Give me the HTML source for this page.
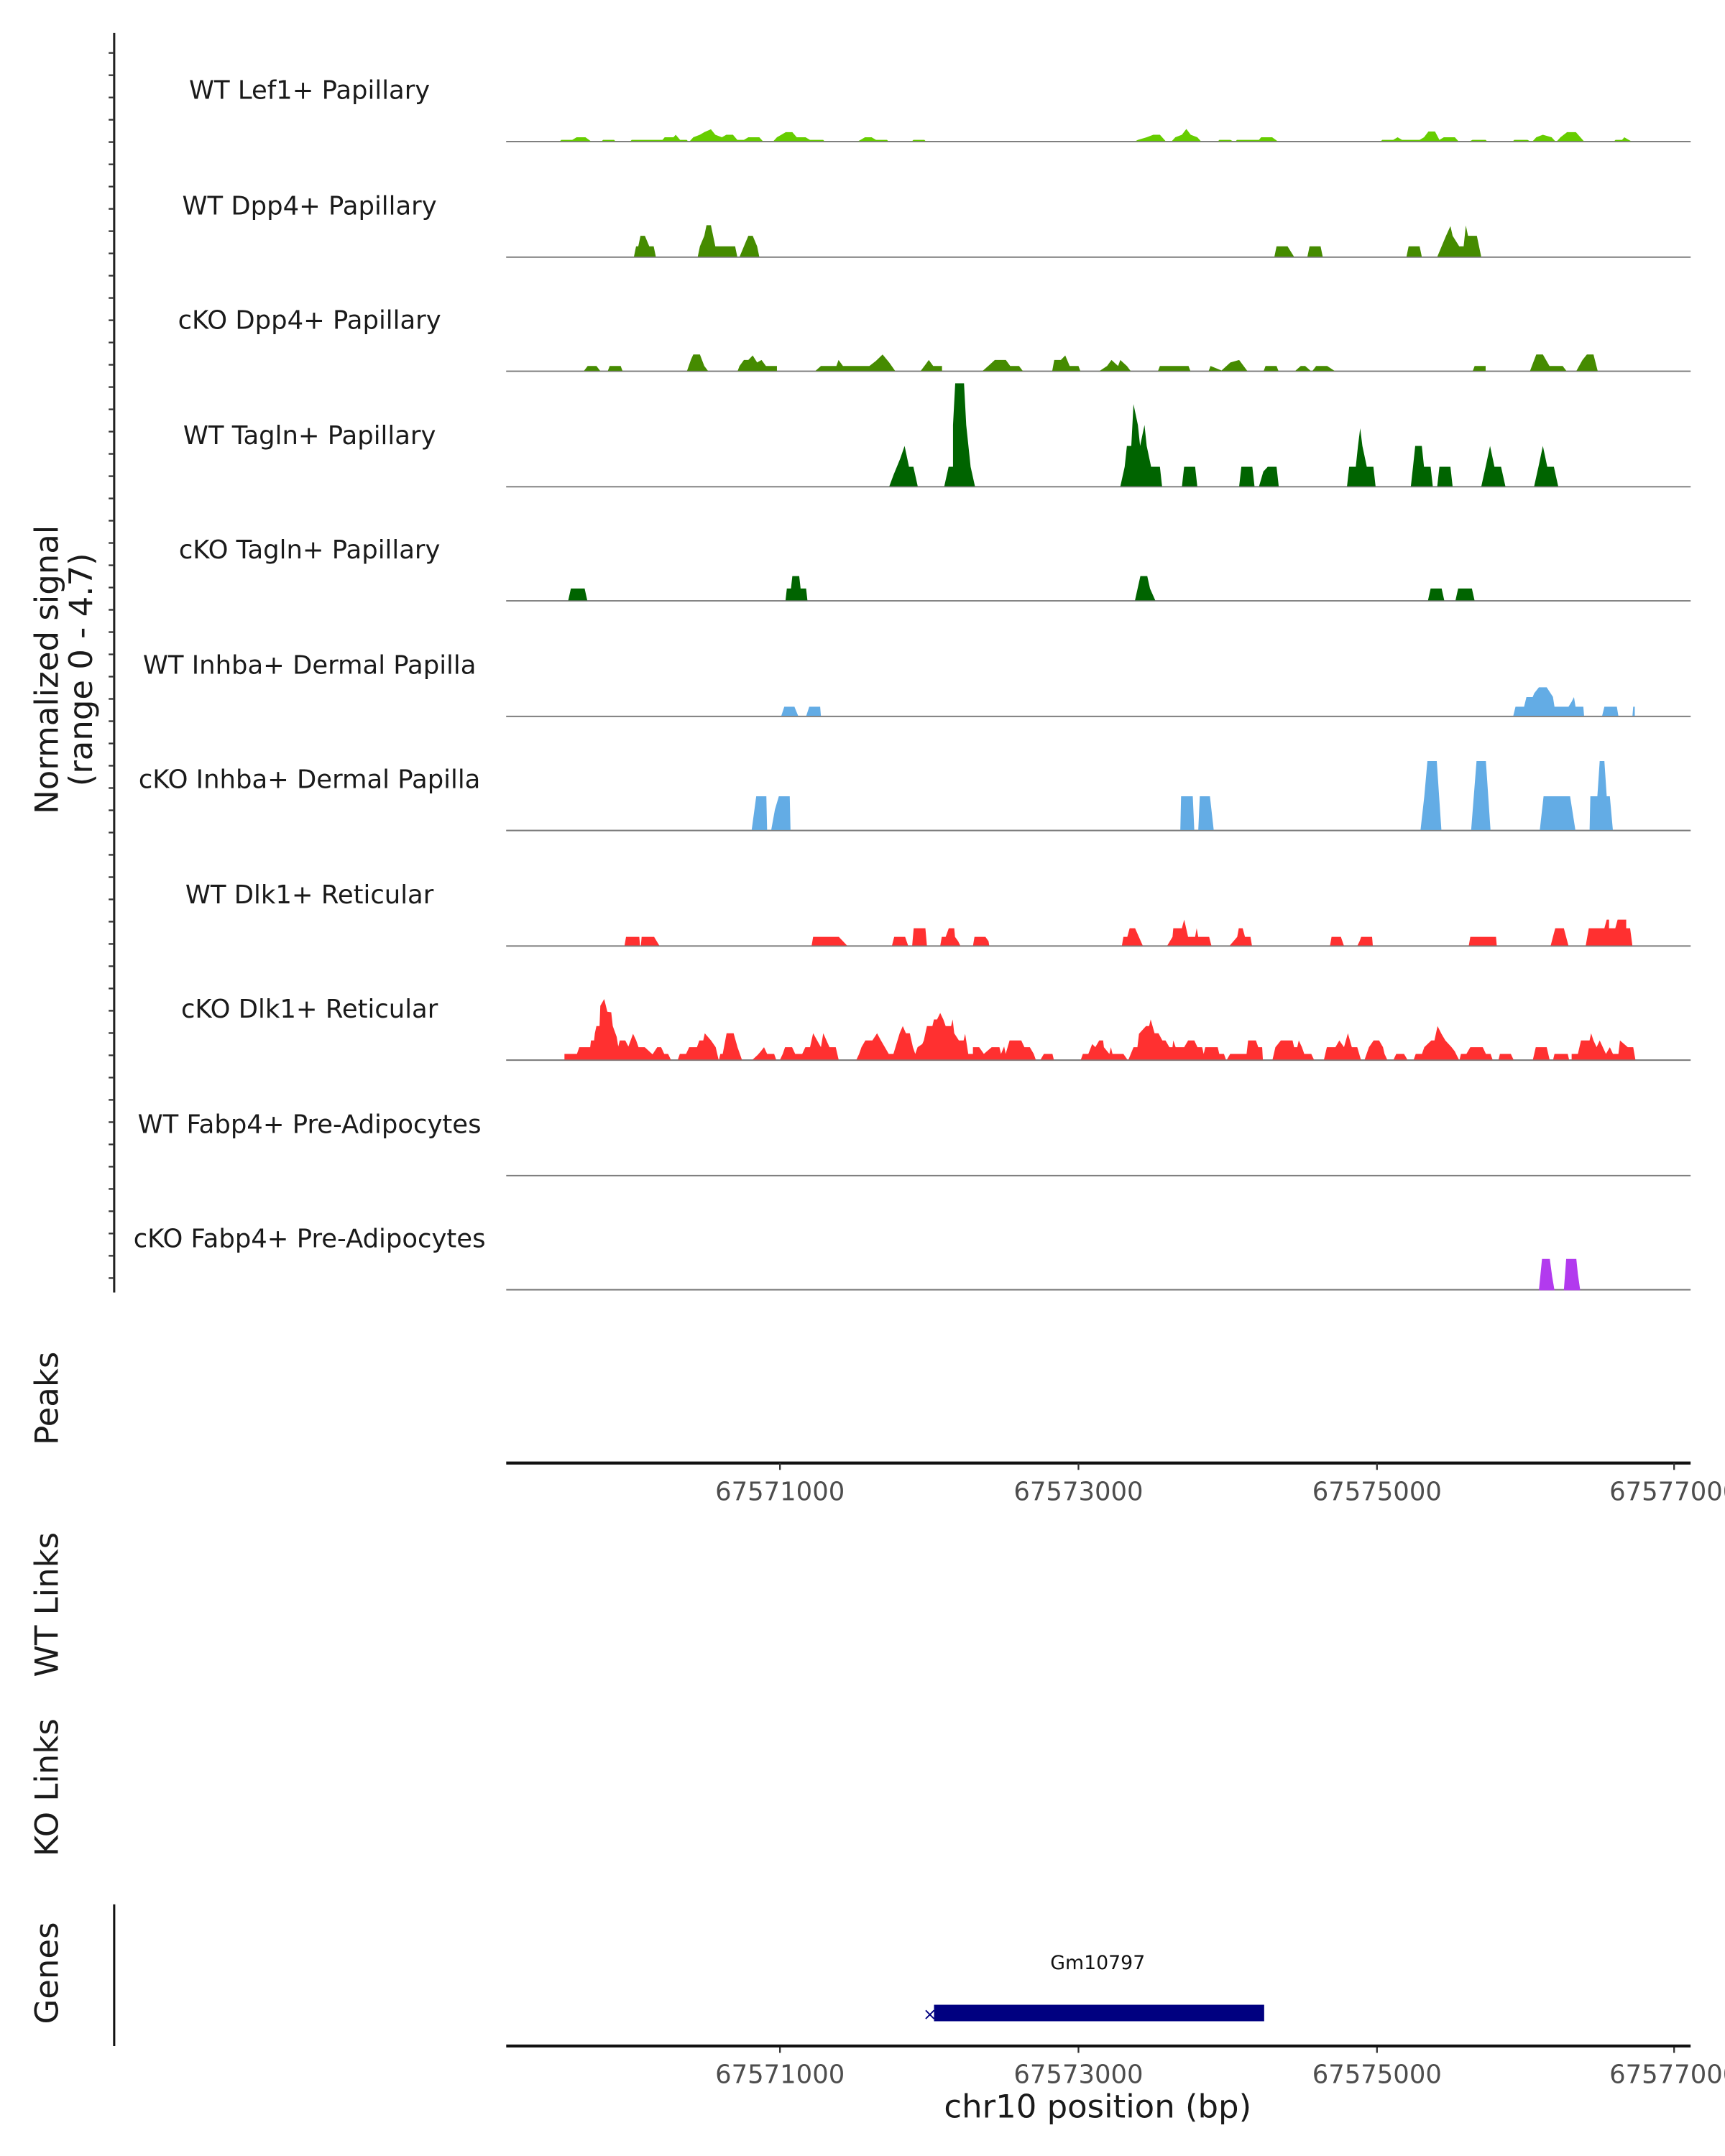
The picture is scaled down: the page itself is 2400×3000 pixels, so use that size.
<!DOCTYPE html>
<html><head><meta charset="utf-8"><style>
html,body{margin:0;padding:0;background:#fff;width:2400px;height:3000px;overflow:hidden}
svg{display:block}
text{font-family:"DejaVu Sans","Liberation Sans",sans-serif}
</style></head><body>
<svg width="2400" height="3000" viewBox="0 0 1254 1568" preserveAspectRatio="none" xmlns="http://www.w3.org/2000/svg">
<rect width="1254" height="1568" fill="#fff"/>
<line x1="83" y1="24" x2="83" y2="940" stroke="#222" stroke-width="1.6"/>
<g stroke="#7a7a7a" stroke-width="1">
<line x1="368" x2="1229" y1="103" y2="103"/><line x1="368" x2="1229" y1="187" y2="187"/>
<line x1="368" x2="1229" y1="270" y2="270"/><line x1="368" x2="1229" y1="354" y2="354"/>
<line x1="368" x2="1229" y1="437" y2="437"/><line x1="368" x2="1229" y1="521" y2="521"/>
<line x1="368" x2="1229" y1="604" y2="604"/><line x1="368" x2="1229" y1="688" y2="688"/>
<line x1="368" x2="1229" y1="771" y2="771"/><line x1="368" x2="1229" y1="855" y2="855"/>
<line x1="368" x2="1229" y1="938" y2="938"/>
</g>
<g font-size="18.5" fill="#1a1a1a" text-anchor="middle">
<text x="225" y="72">WT Lef1+ Papillary</text>
<text x="225" y="156">WT Dpp4+ Papillary</text>
<text x="225" y="239">cKO Dpp4+ Papillary</text>
<text x="225" y="323">WT Tagln+ Papillary</text>
<text x="225" y="406">cKO Tagln+ Papillary</text>
<text x="225" y="490">WT Inhba+ Dermal Papilla</text>
<text x="225" y="573">cKO Inhba+ Dermal Papilla</text>
<text x="225" y="657">WT Dlk1+ Reticular</text>
<text x="225" y="740">cKO Dlk1+ Reticular</text>
<text x="225" y="824">WT Fabp4+ Pre-Adipocytes</text>
<text x="225" y="907">cKO Fabp4+ Pre-Adipocytes</text>
</g>
<g transform="scale(0.8,0.2333)">
<polygon fill="#66cd00" points="508,443 510,436 520,436 524,428 532,428 538,443 546,443 548,436 558,436 560,443 572,443 574,436 602,436 604,428 612,428 614,420 618,436 624,436 626,443 630,428 636,420 640,412 646,403 650,420 656,428 660,420 666,420 670,436 676,436 680,428 690,428 694,443 702,443 706,428 710,420 714,412 720,412 724,428 732,428 736,436 748,436 750,443 778,443 782,436 786,428 792,428 796,436 806,436 808,443 828,443 830,436 840,436 842,443 1030,443 1034,436 1042,428 1048,420 1054,420 1060,443 1064,443 1068,428 1074,420 1078,402 1082,420 1088,428 1092,443 1106,443 1108,436 1118,436 1122,443 1124,436 1144,436 1146,428 1156,428 1162,443 1254,443 1256,436 1266,436 1270,428 1274,436 1290,436 1294,428 1298,410 1304,410 1308,436 1312,428 1322,428 1326,443 1334,443 1338,436 1350,436 1352,443 1374,443 1376,436 1388,436 1392,443 1396,428 1402,420 1410,428 1414,443 1418,428 1424,412 1432,412 1440,443 1466,443 1468,436 1474,436 1476,428 1480,436 1484,443"/>
<polygon fill="#458b00" points="576,801 578,768 580,768 582,735 586,735 590,768 594,768 596,801 634,801 636,768 640,735 642,702 646,702 650,768 668,768 670,801 672,801 676,768 680,735 684,735 688,768 690,801 1158,801 1160,768 1170,768 1176,801 1188,801 1190,768 1200,768 1202,801 1278,801 1280,768 1290,768 1292,801 1306,801 1310,768 1314,735 1318,705 1320,735 1326,768 1330,768 1332,703 1334,735 1342,735 1346,801"/>
<polygon fill="#458b00" points="530,1159 534,1141 542,1141 546,1159 552,1159 554,1141 564,1141 566,1159 624,1159 628,1120 630,1105 636,1105 640,1141 644,1159 670,1159 672,1141 676,1122 680,1122 684,1108 688,1130 692,1122 696,1141 706,1141 706,1159 740,1159 746,1141 760,1141 762,1122 766,1141 790,1141 796,1125 802,1105 808,1130 814,1159 836,1159 840,1141 844,1122 848,1141 856,1141 856,1159 892,1159 898,1141 904,1122 914,1122 918,1141 926,1141 930,1159 956,1159 958,1122 964,1122 968,1108 972,1141 980,1141 982,1159 998,1159 1006,1141 1010,1122 1016,1141 1018,1122 1024,1141 1028,1159 1052,1159 1054,1141 1080,1141 1082,1159 1098,1159 1100,1141 1110,1155 1118,1130 1126,1122 1134,1159 1148,1159 1150,1141 1160,1141 1162,1159 1176,1159 1182,1141 1186,1141 1192,1159 1196,1141 1206,1141 1214,1159 1338,1159 1340,1141 1350,1141 1350,1159 1390,1159 1396,1105 1402,1105 1408,1141 1420,1141 1424,1159 1432,1159 1438,1122 1442,1105 1448,1105 1452,1159"/>
<polygon fill="#006400" points="808,1517 812,1480 818,1430 822,1390 826,1455 830,1455 834,1517 858,1517 862,1455 866,1455 866,1325 868,1195 876,1195 878,1325 882,1455 886,1517 1018,1517 1022,1455 1024,1390 1028,1390 1030,1260 1034,1325 1036,1390 1040,1325 1042,1390 1046,1455 1054,1455 1056,1517 1074,1517 1076,1455 1086,1455 1088,1517 1126,1517 1128,1455 1138,1455 1140,1517 1144,1517 1148,1470 1152,1455 1160,1455 1162,1517 1224,1517 1226,1455 1232,1455 1234,1390 1236,1335 1238,1390 1242,1455 1248,1455 1250,1517 1282,1517 1284,1455 1286,1390 1292,1390 1294,1455 1300,1455 1302,1517 1306,1517 1308,1455 1318,1455 1320,1517 1346,1517 1350,1455 1354,1390 1358,1455 1364,1455 1368,1517 1394,1517 1398,1455 1402,1390 1406,1455 1412,1455 1416,1517"/>
</g>
<polygon fill="#006400" points="413,437 415,428 425,428 427,437 571,437 572,428 575,428 576,419 581,419 582,428 586,428 587,437 825,437 827,428 829,419 834,419 836,428 840,437 1038,437 1040,428 1048,428 1050,437 1058,437 1060,428 1070,428 1072,437"/>
<g transform="translate(365,444.1) scale(0.5667,0.1742)">
<polygon fill="#63ace5" points="358,441 362,401 375,401 380,441 390,441 394,401 408,401 409,441 1297,441 1300,401 1311,401 1314,361 1322,361 1324,345 1330,320 1340,320 1348,360 1350,401 1368,401 1372,380 1375,361 1377,401 1387,401 1388,441 1411,441 1414,401 1430,401 1432,441 1450,441 1451,401 1453,401 1453,441"/>
<polygon fill="#63ace5" points="320,920 326,775 339,775 340,920 345,920 350,830 355,775 369,775 370,920 870,920 871,775 886,775 888,920 893,920 895,775 908,775 913,920 1178,920 1183,775 1187,628 1199,628 1202,775 1205,920 1243,920 1250,628 1262,628 1268,920 1331,920 1336,775 1370,775 1377,920 1395,920 1396,775 1405,775 1408,628 1414,628 1417,775 1421,775 1425,920"/>
<polygon fill="#ff3030" points="157,1400 159,1362 176,1362 177,1400 178,1400 179,1362 195,1362 202,1400 397,1400 399,1362 432,1362 443,1400 500,1400 503,1362 517,1362 521,1400 526,1400 528,1326 543,1326 545,1400 562,1400 564,1362 569,1362 573,1326 580,1326 581,1362 585,1380 588,1400 604,1400 606,1362 620,1362 624,1380 625,1400 795,1400 797,1362 802,1362 805,1326 812,1326 822,1400 853,1400 860,1362 861,1326 872,1326 875,1290 880,1362 889,1362 891,1326 893,1362 907,1362 910,1400 933,1400 943,1362 945,1326 950,1326 953,1362 960,1362 962,1400 1062,1400 1064,1362 1076,1362 1080,1400 1097,1400 1100,1380 1102,1362 1116,1362 1117,1400 1240,1400 1242,1362 1275,1362 1276,1400 1345,1400 1348,1362 1351,1326 1362,1326 1368,1400 1390,1400 1394,1326 1414,1326 1417,1290 1420,1290 1420,1326 1428,1326 1431,1290 1442,1290 1442,1326 1447,1326 1450,1400"/>
</g>
<g transform="translate(365,700.1) scale(0.5667,0.1742)">
<polygon fill="#ff3030" points="80,409 80,381 96,381 99,353 113,353 114,325 118,325 119,295 121,265 125,265 126,180 131,152 135,205 140,207 142,265 147,310 149,350 151,325 158,325 162,350 168,297 172,325 175,353 183,353 193,383 199,353 204,353 208,381 213,381 217,409 225,409 228,381 236,381 240,353 250,353 253,325 258,325 260,295 268,325 274,353 276,381 278,409 280,381 283,381 288,295 297,295 302,353 308,409 320,409 328,385 332,370 336,353 340,381 349,381 352,409 356,409 360,381 363,353 372,353 376,381 385,381 389,353 395,353 399,295 409,353 412,295 420,353 428,353 432,409 454,409 458,381 461,353 466,325 475,325 481,295 486,325 491,353 496,381 502,381 510,295 514,265 518,295 523,295 527,353 530,381 533,353 539,340 541,325 545,265 552,265 554,237 558,237 562,210 566,237 569,265 576,265 578,237 580,295 586,325 592,325 594,297 598,381 604,381 604,353 612,353 618,381 628,353 638,353 640,381 644,350 646,381 651,325 666,325 670,353 677,353 682,381 685,409 690,409 695,381 706,381 708,409 742,409 745,381 752,381 757,340 761,353 766,325 771,325 772,353 779,381 781,353 783,381 797,381 803,409 810,353 815,353 817,297 826,265 830,265 832,237 837,295 842,295 847,325 851,325 856,353 860,353 861,325 864,353 875,353 880,325 888,325 892,353 898,353 900,381 902,353 918,353 920,381 926,381 929,409 934,381 955,381 957,325 967,325 970,353 975,353 976,409 988,409 992,353 999,325 1014,325 1016,353 1020,353 1022,325 1026,353 1029,381 1038,381 1042,409 1054,409 1058,353 1069,353 1074,325 1080,353 1085,295 1090,353 1097,353 1102,409 1106,409 1112,353 1118,325 1125,325 1130,353 1132,381 1136,409 1143,409 1147,381 1157,381 1162,409 1169,409 1172,381 1180,381 1183,353 1192,325 1196,325 1200,265 1205,297 1210,325 1218,353 1222,370 1228,409 1230,381 1237,381 1242,353 1258,353 1262,381 1268,381 1271,409 1278,409 1280,381 1294,381 1298,409 1322,409 1326,353 1340,353 1344,409 1348,409 1350,381 1367,381 1369,409 1372,409 1372,381 1380,381 1384,325 1395,325 1397,295 1400,325 1404,353 1408,325 1416,381 1421,353 1425,381 1432,381 1434,325 1444,353 1451,353 1454,409"/>
<polygon fill="#b23aee" points="1330,1368 1334,1237 1344,1237 1347,1310 1350,1368 1362,1368 1365,1237 1378,1237 1380,1300 1383,1368"/>
</g>
<g stroke="#7a7a7a" stroke-width="0.8">
<line x1="368" x2="1229" y1="103" y2="103"/><line x1="368" x2="1229" y1="187" y2="187"/>
<line x1="368" x2="1229" y1="270" y2="270"/><line x1="368" x2="1229" y1="354" y2="354"/>
<line x1="368" x2="1229" y1="437" y2="437"/><line x1="368" x2="1229" y1="521" y2="521"/>
<line x1="368" x2="1229" y1="604" y2="604"/><line x1="368" x2="1229" y1="688" y2="688"/>
<line x1="368" x2="1229" y1="771" y2="771"/>
</g>
<g font-size="23.5" fill="#1a1a1a" text-anchor="middle">
<text transform="translate(42,487) rotate(-90)">Normalized signal</text>
<text transform="translate(67,487) rotate(-90)">(range 0 - 4.7)</text>
<text transform="translate(42,1017) rotate(-90)">Peaks</text>
<text transform="translate(42,1167) rotate(-90)">WT Links</text>
<text transform="translate(42,1300) rotate(-90)">KO Links</text>
<text transform="translate(42,1435) rotate(-90)">Genes</text>
</g>
<line x1="368" y1="1064" x2="1229" y2="1064" stroke="#111" stroke-width="2.2"/>
<g stroke="#333" stroke-width="1.2">
<line x1="567" x2="567" y1="1064" y2="1069"/><line x1="784" x2="784" y1="1064" y2="1069"/>
<line x1="1001" x2="1001" y1="1064" y2="1069"/><line x1="1217" x2="1217" y1="1064" y2="1069"/>
<line x1="567" x2="567" y1="1488" y2="1493"/><line x1="784" x2="784" y1="1488" y2="1493"/>
<line x1="1001" x2="1001" y1="1488" y2="1493"/><line x1="1217" x2="1217" y1="1488" y2="1493"/>
</g>
<g font-size="18.5" fill="#4d4d4d" text-anchor="middle">
<text x="567" y="1091">67571000</text><text x="784" y="1091">67573000</text>
<text x="1001" y="1091">67575000</text><text x="1217" y="1091">67577000</text>
<text x="567" y="1515">67571000</text><text x="784" y="1515">67573000</text>
<text x="1001" y="1515">67575000</text><text x="1217" y="1515">67577000</text>
</g>
<line x1="83" y1="1385" x2="83" y2="1488" stroke="#111" stroke-width="1.6"/>
<text x="798" y="1432" font-size="14" fill="#111" text-anchor="middle">Gm10797</text>
<rect x="679" y="1458" width="240" height="12" fill="#000080"/>
<text x="676" y="1469" font-size="12" fill="#000080" text-anchor="middle">×</text>
<line x1="368" y1="1488" x2="1229" y2="1488" stroke="#111" stroke-width="2.2"/>
<text x="798" y="1540" font-size="23.5" fill="#1a1a1a" text-anchor="middle">chr10 position (bp)</text>
<g stroke="#333" stroke-width="1.2">
<line x1="79" x2="83" y1="38.5" y2="38.5"/><line x1="79" x2="83" y1="54.7" y2="54.7"/><line x1="79" x2="83" y1="70.9" y2="70.9"/><line x1="79" x2="83" y1="87.1" y2="87.1"/><line x1="79" x2="83" y1="103.3" y2="103.3"/><line x1="79" x2="83" y1="119.5" y2="119.5"/><line x1="79" x2="83" y1="135.7" y2="135.7"/><line x1="79" x2="83" y1="151.9" y2="151.9"/><line x1="79" x2="83" y1="168.1" y2="168.1"/><line x1="79" x2="83" y1="184.3" y2="184.3"/><line x1="79" x2="83" y1="200.5" y2="200.5"/><line x1="79" x2="83" y1="216.7" y2="216.7"/><line x1="79" x2="83" y1="232.9" y2="232.9"/><line x1="79" x2="83" y1="249.1" y2="249.1"/><line x1="79" x2="83" y1="265.3" y2="265.3"/><line x1="79" x2="83" y1="281.5" y2="281.5"/><line x1="79" x2="83" y1="297.7" y2="297.7"/><line x1="79" x2="83" y1="313.9" y2="313.9"/><line x1="79" x2="83" y1="330.1" y2="330.1"/><line x1="79" x2="83" y1="346.3" y2="346.3"/><line x1="79" x2="83" y1="362.5" y2="362.5"/><line x1="79" x2="83" y1="378.7" y2="378.7"/><line x1="79" x2="83" y1="394.9" y2="394.9"/><line x1="79" x2="83" y1="411.1" y2="411.1"/><line x1="79" x2="83" y1="427.3" y2="427.3"/><line x1="79" x2="83" y1="443.5" y2="443.5"/><line x1="79" x2="83" y1="459.7" y2="459.7"/><line x1="79" x2="83" y1="475.9" y2="475.9"/><line x1="79" x2="83" y1="492.1" y2="492.1"/><line x1="79" x2="83" y1="508.3" y2="508.3"/><line x1="79" x2="83" y1="524.5" y2="524.5"/><line x1="79" x2="83" y1="540.7" y2="540.7"/><line x1="79" x2="83" y1="556.9" y2="556.9"/><line x1="79" x2="83" y1="573.1" y2="573.1"/><line x1="79" x2="83" y1="589.3" y2="589.3"/><line x1="79" x2="83" y1="605.5" y2="605.5"/><line x1="79" x2="83" y1="621.7" y2="621.7"/><line x1="79" x2="83" y1="637.9" y2="637.9"/><line x1="79" x2="83" y1="654.1" y2="654.1"/><line x1="79" x2="83" y1="670.3" y2="670.3"/><line x1="79" x2="83" y1="686.5" y2="686.5"/><line x1="79" x2="83" y1="702.7" y2="702.7"/><line x1="79" x2="83" y1="718.9" y2="718.9"/><line x1="79" x2="83" y1="735.1" y2="735.1"/><line x1="79" x2="83" y1="751.3" y2="751.3"/><line x1="79" x2="83" y1="767.5" y2="767.5"/><line x1="79" x2="83" y1="783.7" y2="783.7"/><line x1="79" x2="83" y1="799.9" y2="799.9"/><line x1="79" x2="83" y1="816.1" y2="816.1"/><line x1="79" x2="83" y1="832.3" y2="832.3"/><line x1="79" x2="83" y1="848.5" y2="848.5"/><line x1="79" x2="83" y1="864.7" y2="864.7"/><line x1="79" x2="83" y1="880.9" y2="880.9"/><line x1="79" x2="83" y1="897.1" y2="897.1"/><line x1="79" x2="83" y1="913.3" y2="913.3"/><line x1="79" x2="83" y1="929.5" y2="929.5"/>
</g>
</svg>
</body></html>
